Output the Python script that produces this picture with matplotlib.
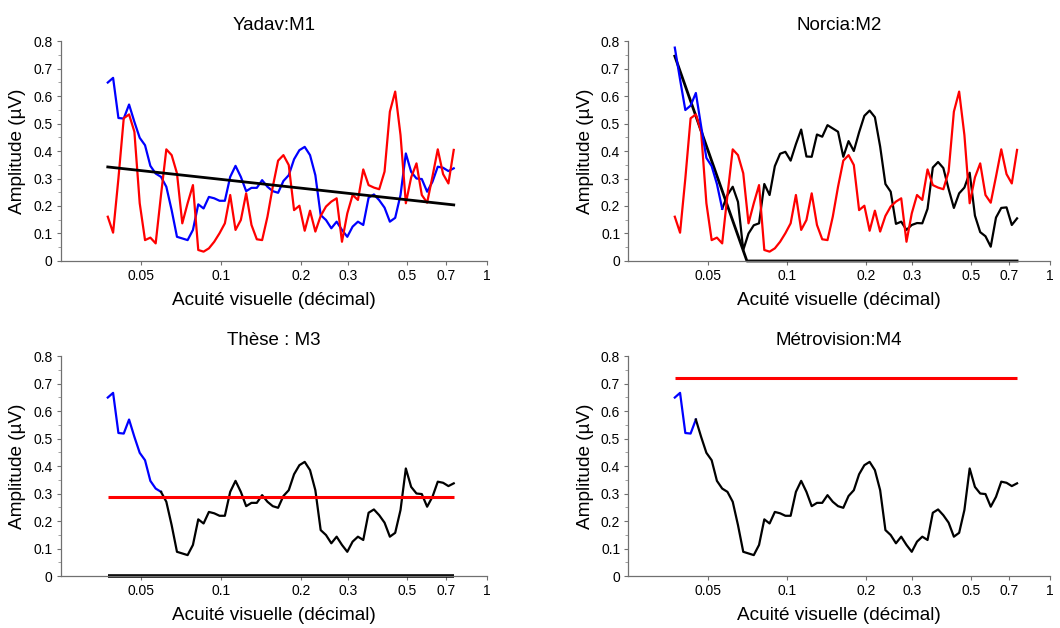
import matplotlib
matplotlib.use("Agg")
import matplotlib.pyplot as plt
import numpy as np

plt.rcParams['font.family'] = ['Liberation Sans', 'DejaVu Sans']

#===============================================================================
#                                   Data
#===============================================================================

# sweep: 66 log-spaced acuity steps (decimal)
acuite = np.geomspace(0.0375, 0.75, 66)

# recorded amplitude (uV)
amplitude = [0.649, 0.666, 0.520, 0.518, 0.569, 0.506, 0.448, 0.421, 0.346, 0.318,
             0.306, 0.270, 0.185, 0.088, 0.082, 0.076, 0.113, 0.206, 0.191, 0.233,
             0.228, 0.219, 0.219, 0.306, 0.346, 0.306, 0.254, 0.266, 0.266, 0.294,
             0.270, 0.254, 0.248, 0.291, 0.312, 0.370, 0.403, 0.415, 0.385, 0.312,
             0.167, 0.149, 0.119, 0.143, 0.113, 0.088, 0.125, 0.143, 0.131, 0.230,
             0.242, 0.221, 0.194, 0.143, 0.157, 0.240, 0.391, 0.324, 0.300, 0.298,
             0.252, 0.288, 0.343, 0.339, 0.327, 0.337]

# noise amplitude (uV)
bruit = [0.161, 0.103, 0.300, 0.519, 0.533, 0.470, 0.210, 0.076, 0.085, 0.064,
         0.240, 0.406, 0.385, 0.319, 0.137, 0.210, 0.276, 0.040, 0.034, 0.046,
         0.070, 0.101, 0.137, 0.240, 0.113, 0.149, 0.246, 0.131, 0.079, 0.076,
         0.161, 0.270, 0.365, 0.385, 0.349, 0.185, 0.201, 0.110, 0.183, 0.107,
         0.164, 0.198, 0.216, 0.228, 0.070, 0.173, 0.240, 0.222, 0.333, 0.276,
         0.267, 0.261, 0.325, 0.543, 0.616, 0.458, 0.210, 0.304, 0.355, 0.240,
         0.212, 0.307, 0.406, 0.316, 0.282, 0.404]

# Norcia: signal part (first 10 steps) and remaining part (steps 9 -> 65)
norcia_signal = [0.776, 0.660, 0.549, 0.565, 0.611, 0.490, 0.375, 0.345, 0.280, 0.190]
norcia_reste  = [0.190, 0.240, 0.270, 0.215, 0.040, 0.100, 0.130, 0.137, 0.280, 0.240,
                 0.345, 0.390, 0.397, 0.365, 0.425, 0.478, 0.380, 0.379, 0.460, 0.452,
                 0.494, 0.482, 0.470, 0.379, 0.436, 0.400, 0.468, 0.528, 0.547, 0.523,
                 0.416, 0.280, 0.252, 0.135, 0.143, 0.113, 0.131, 0.138, 0.137, 0.190,
                 0.340, 0.360, 0.338, 0.262, 0.193, 0.246, 0.267, 0.321, 0.165, 0.105,
                 0.090, 0.052, 0.158, 0.193, 0.195, 0.131, 0.155]

# fits / thresholds
yadav_fit_x  = [0.0375, 0.75]
yadav_fit_y  = [0.342, 0.204]
norcia_fit_x = [0.0375, 0.0705, 0.75]
norcia_fit_y = [0.745, 0.0, 0.0]
these_seuil  = 0.288
metro_seuil  = 0.72

x_ticks  = [0.05, 0.1, 0.2, 0.3, 0.5, 0.7, 1]
x_labels = ["0.05", "0.1", "0.2", "0.3", "0.5", "0.7", "1"]
y_ticks  = [0, 0.1, 0.2, 0.3, 0.4, 0.5, 0.6, 0.7, 0.8]
y_labels = ["0", "0.1", "0.2", "0.3", "0.4", "0.5", "0.6", "0.7", "0.8"]

#===============================================================================
#                                   Plot
#===============================================================================

BLUE = "#0000ff"
RED  = "#ff0000"
LW   = 1.6

fig = plt.figure(figsize=(10.6, 6.28), dpi=100)

positions = { "M1": [0.0575, 0.5844, 0.4019, 0.3503],
              "M2": [0.5929, 0.5844, 0.3976, 0.3503],
              "M3": [0.0575, 0.0828, 0.4019, 0.3503],
              "M4": [0.5929, 0.0828, 0.3976, 0.3503] }
titles = { "M1": "Yadav:M1", "M2": "Norcia:M2", "M3": "Thèse : M3", "M4": "Métrovision:M4" }

axes = {}
for key in ["M1", "M2", "M3", "M4"]:
    ax = fig.add_axes(positions[key])
    ax.set_xscale("log")
    ax.set_xlim(0.025, 1)
    ax.set_ylim(0, 0.8)
    ax.set_xticks(x_ticks)
    ax.set_xticklabels(x_labels)
    ax.xaxis.set_minor_locator(matplotlib.ticker.NullLocator())
    ax.set_yticks(y_ticks)
    ax.set_yticklabels(y_labels)
    ax.set_yticks(np.arange(0.05, 0.8, 0.1), minor=True)
    for s in ["top", "right"]:
        ax.spines[s].set_visible(False)
    for s in ["left", "bottom"]:
        ax.spines[s].set_color("#707070")
        ax.spines[s].set_linewidth(0.9)
    ax.tick_params(axis="both", which="major", direction="out", length=3, width=0.8,
                   color="#707070", labelsize=10, pad=3)
    ax.tick_params(axis="y", which="minor", direction="out", length=2, width=0.6, color="#909090")
    ax.set_xlabel("Acuité visuelle (décimal)", fontsize=13.7, labelpad=6)
    ax.set_ylabel("Amplitude (µV)", fontsize=13.7, labelpad=5)
    ax.set_title(titles[key], fontsize=13.5, pad=8)
    axes[key] = ax

# M1 : Yadav
ax = axes["M1"]
ax.plot(acuite, amplitude, color=BLUE, linewidth=LW)
ax.plot(acuite, bruit, color=RED, linewidth=LW)
ax.plot(yadav_fit_x, yadav_fit_y, color="black", linewidth=2.0)

# M2 : Norcia
ax = axes["M2"]
ax.plot(norcia_fit_x, norcia_fit_y, color="black", linewidth=2.0, clip_on=False)
ax.plot(acuite[9:], norcia_reste, color="black", linewidth=LW)
ax.plot(acuite, bruit, color=RED, linewidth=LW)
ax.plot(acuite[:10], norcia_signal, color=BLUE, linewidth=LW)

# M3 : These
ax = axes["M3"]
ax.plot(acuite[:11], amplitude[:11], color=BLUE, linewidth=LW)
ax.plot(acuite[10:], amplitude[10:], color="black", linewidth=LW)
ax.hlines(these_seuil, acuite[0], acuite[-1], color=RED, linewidth=2.2)
ax.hlines(0, acuite[0], acuite[-1], color="black", linewidth=2.6, clip_on=False)

# M4 : Metrovision
ax = axes["M4"]
ax.plot(acuite[:5], amplitude[:5], color=BLUE, linewidth=LW)
ax.plot(acuite[4:], amplitude[4:], color="black", linewidth=LW)
ax.hlines(metro_seuil, acuite[0], acuite[-1], color=RED, linewidth=2.2)

plt.savefig("out.png", dpi=100)
plt.close(fig)
